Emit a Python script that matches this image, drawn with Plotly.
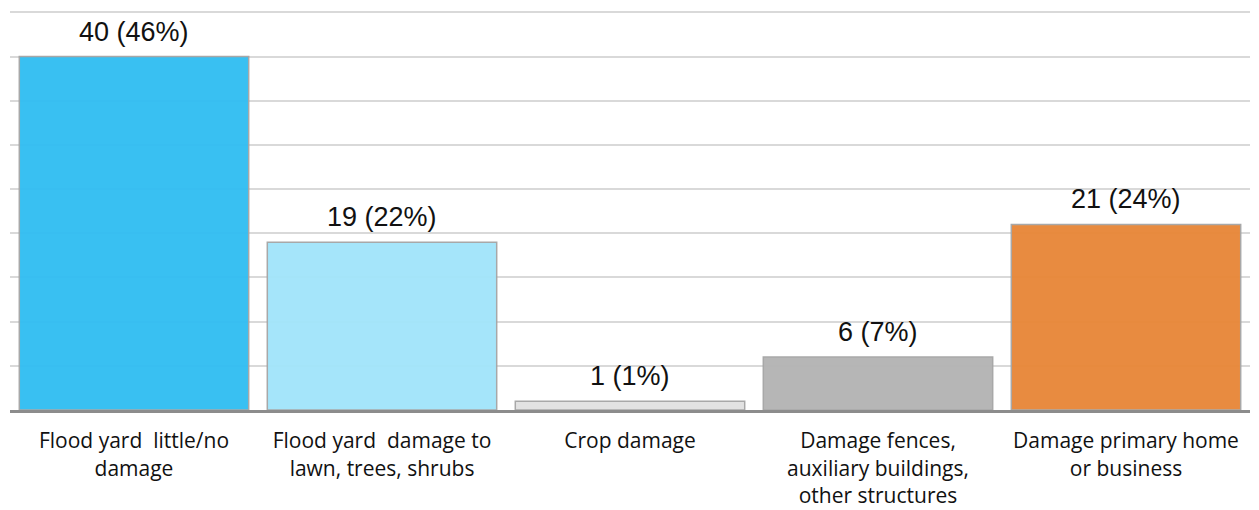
import plotly.graph_objects as go

categories = ["Flood yard  little/no<br>damage",
              "Flood yard  damage to<br>lawn, trees, shrubs",
              "Crop damage",
              "Damage fences,<br>auxiliary buildings,<br>other structures",
              "Damage primary home<br>or business"]
counts = [40, 19, 1, 6, 21]
percents = [46, 22, 1, 7, 24]
colors = ["#33BEF2", "#A3E5FA", "#E2E2E2", "#B4B4B4", "#E8883A"]
labels = [f"{c} ({p}%)" for c, p in zip(counts, percents)]

fig = go.Figure()
fig.add_trace(go.Bar(
    x=categories, y=counts,
    marker=dict(color=colors, line=dict(color="#A6A6A6", width=1.5)),
    opacity=0.97,
))
for cat, v, lab in zip(categories, counts, labels):
    fig.add_annotation(x=cat, y=v, text=lab, showarrow=False,
                       yanchor="bottom", yshift=8,
                       font=dict(family="Liberation Sans, Arial", size=27, color="#111111"))

fig.update_layout(
    width=1251, height=502,
    margin=dict(l=2, r=9, t=0, b=100),
    paper_bgcolor="white", plot_bgcolor="white",
    bargap=0.075,
    showlegend=False,
    font=dict(family="Open Sans, Liberation Sans", color="#111111"),
)
fig.update_yaxes(range=[0, 45.5], tickvals=[5, 10, 15, 20, 25, 30, 35, 40, 45],
                 showticklabels=False,
                 showgrid=True, gridcolor="#D9D9D9", gridwidth=1.5,
                 zeroline=False)
fig.update_xaxes(showline=True, linecolor="#8C8C8C", linewidth=3,
                 tickfont=dict(family="Open Sans, Liberation Sans", size=21, color="#111111"),
                 ticklabelstandoff=10)
fig.write_html("out.html")
